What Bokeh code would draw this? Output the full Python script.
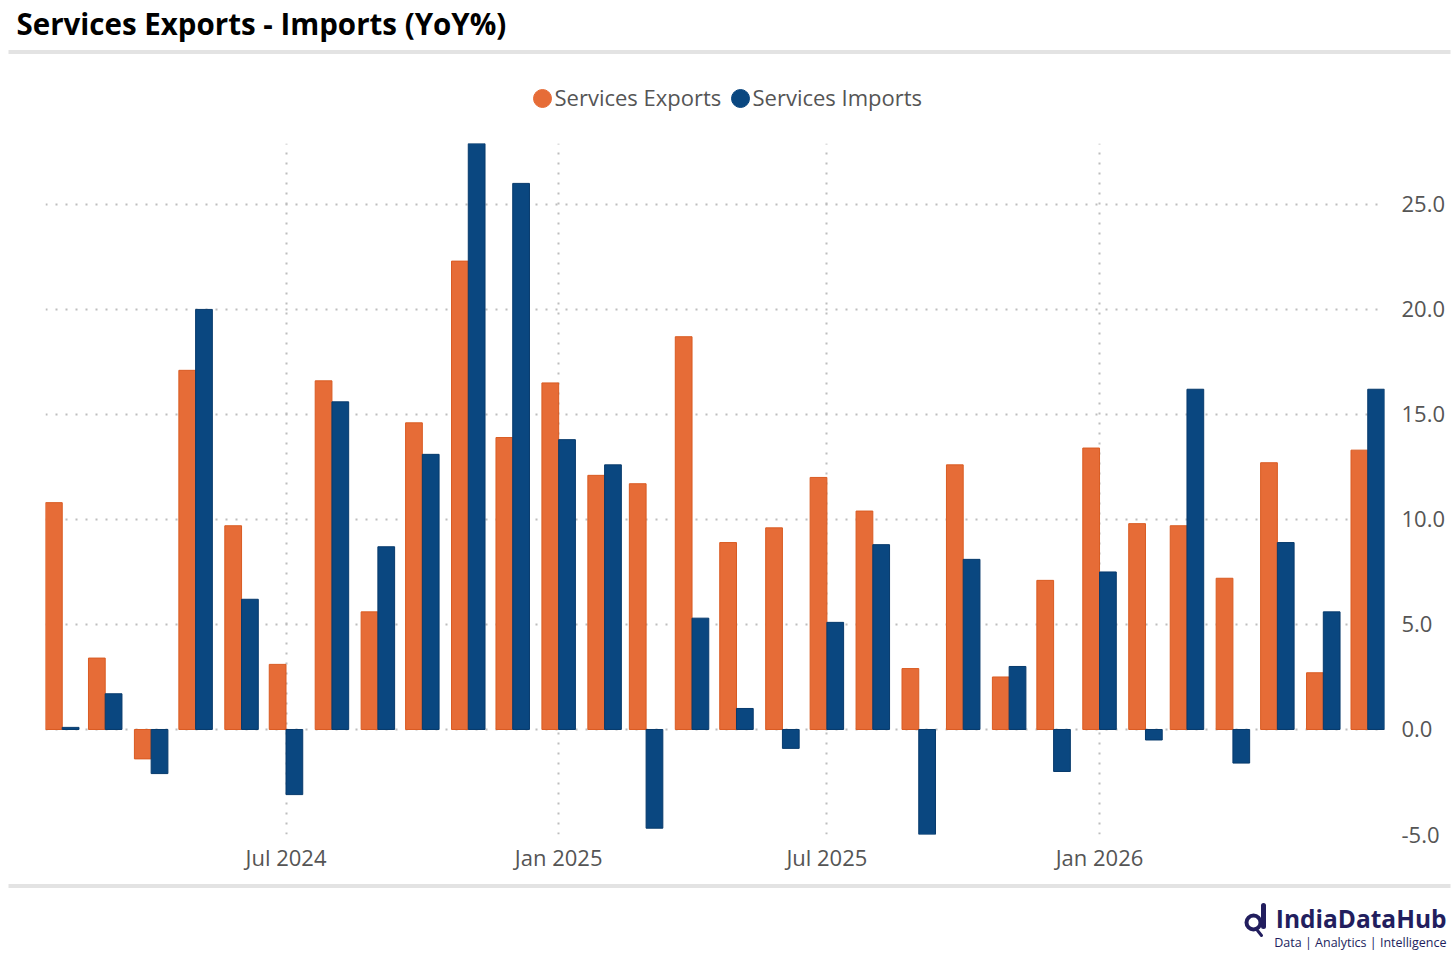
import pandas as pd
from bokeh.plotting import figure
from bokeh.models import (ColumnDataSource, Range1d, FixedTicker, DatetimeTickFormatter,
                          SingleIntervalTicker, NumeralTickFormatter)
from bokeh.layouts import column
from bokeh.core.properties import value
from bokeh.embed import file_html
from bokeh.resources import INLINE

# data (YoY %)
months = ["2024-02", "2024-03", "2024-04", "2024-05", "2024-06", "2024-07",
          "2024-08", "2024-09", "2024-10", "2024-11", "2024-12", "2025-01",
          "2025-02", "2025-03", "2025-04", "2025-05", "2025-06", "2025-07",
          "2025-08", "2025-09", "2025-10", "2025-11", "2025-12", "2026-01",
          "2026-02", "2026-03", "2026-04", "2026-05", "2026-06", "2026-07"]
exports = [10.8, 3.4, -1.4, 17.1, 9.7, 3.1, 16.6, 5.6, 14.6, 22.3, 13.9, 16.5,
           12.1, 11.7, 18.7, 8.9, 9.6, 12.0, 10.4, 2.9, 12.6, 2.5, 7.1, 13.4,
           9.8, 9.7, 7.2, 12.7, 2.7, 13.3]
imports = [0.1, 1.7, -2.1, 20.0, 6.2, -3.1, 15.6, 8.7, 13.1, 27.9, 26.0, 13.8,
           12.6, -4.7, 5.3, 1.0, -0.9, 5.1, 8.8, -5.0, 8.1, 3.0, -2.0, 7.5,
           -0.5, 16.2, -1.6, 8.9, 5.6, 16.2]
tick_months = ["2024-07", "2025-01", "2025-07", "2026-01"]

title_text = "Services Exports - Imports (YoY%)"
series_names = ["Services Exports", "Services Imports"]
colors = ["#E66C37", "#0A4780"]
edge_colors = ["#D95B22", "#073A6C"]
FONT = "Open Sans"
W = 1456

dates = pd.to_datetime(months)
bar_w = pd.Timedelta(days=11.3)
source = ColumnDataSource(data=dict(
    x_exp=dates - bar_w / 2,
    x_imp=dates + bar_w / 2,
    exports=exports,
    imports=imports,
))

# header: title, rule, legend
head = figure(width=W, height=128, x_range=(0, W), y_range=(128, 0),
              x_axis_location=None, y_axis_location=None, frame_align=False,
              output_backend="svg", toolbar_location=None, min_border=0)
head.grid.visible = False
head.outline_line_color = None
head.text(x=[16], y=[23], text=[title_text], text_font=value(FONT), text_font_style="bold",
          text_font_size="29.5px", text_color="#000000", text_baseline="middle")
head.segment(x0=[8], y0=[51.5], x1=[1450], y1=[51.5], line_color="#e3e3e3", line_width=4)
head.scatter(x=[542, 740], y=[98, 98], size=18, fill_color=colors, line_color=colors)
head.text(x=[554, 752], y=[96, 96], text=series_names, text_font=value(FONT),
          text_font_size="22px", text_color="#555555", text_baseline="middle")

# main chart
yr = Range1d(min(exports + imports), max(exports + imports))
xr = Range1d(dates[0] - bar_w, dates[-1] + bar_w)
p = figure(width=W, height=752, x_axis_type="datetime", y_axis_location="right",
           x_range=xr, y_range=yr, frame_align=False,
           output_backend="svg", toolbar_location=None,
           min_border_top=15, min_border_bottom=46, min_border_left=45, min_border_right=72)
p.outline_line_color = None

p.vbar(x="x_exp", top="exports", width=bar_w, source=source,
       fill_color=colors[0], line_color=edge_colors[0], line_width=1)
p.vbar(x="x_imp", top="imports", width=bar_w, source=source,
       fill_color=colors[1], line_color=edge_colors[1], line_width=1)

tick_ms = [d.timestamp() * 1000 for d in pd.to_datetime(tick_months)]
p.xaxis.ticker = FixedTicker(ticks=tick_ms)
p.xaxis.formatter = DatetimeTickFormatter(months="%b %Y", years="%b %Y")
p.yaxis.ticker = SingleIntervalTicker(interval=5)
p.yaxis.formatter = NumeralTickFormatter(format="0.0")

for ax in (p.xaxis, p.yaxis):
    ax.axis_line_color = None
    ax.major_tick_line_color = None
    ax.minor_tick_line_color = None
    ax.major_tick_out = 0
    ax.major_tick_in = 0
    ax.major_label_text_font = FONT
    ax.major_label_text_font_size = "22px"
    ax.major_label_text_color = "#555555"
p.xaxis.major_label_standoff = 7
p.yaxis.major_label_standoff = 13

p.grid.grid_line_color = "#bdbdbd"
p.grid.grid_line_width = 2
p.grid.grid_line_dash = "2 8"

# footer: rule and logo
foot = figure(width=W, height=77, x_range=(0, W), y_range=(77, 0),
              x_axis_location=None, y_axis_location=None, frame_align=False,
              output_backend="svg", toolbar_location=None, min_border=0)
foot.grid.visible = False
foot.outline_line_color = None
foot.segment(x0=[8], y0=[5.5], x1=[1450], y1=[5.5], line_color="#e3e3e3", line_width=4)
navy = "#221E5E"
foot.scatter(x=[1253], y=[42], size=14, fill_color=None, line_color=navy, line_width=4)
foot.segment(x0=[1263], y0=[25], x1=[1263], y1=[46], line_color=navy, line_width=5, line_cap="round")
foot.segment(x0=[1257], y0=[50], x1=[1261], y1=[55], line_color=navy, line_width=3, line_cap="round")
foot.text(x=[1446], y=[38], text=["IndiaDataHub"], text_font=value(FONT), text_font_style="bold",
          text_font_size="24.5px", text_color=navy, text_align="right", text_baseline="middle")
foot.text(x=[1446], y=[62], text=["Data | Analytics | Intelligence"], text_font=value(FONT),
          text_font_size="12.5px", text_color=navy, text_align="right", text_baseline="middle")

layout = column(head, p, foot)
open("out.html", "w").write(file_html(layout, INLINE))
